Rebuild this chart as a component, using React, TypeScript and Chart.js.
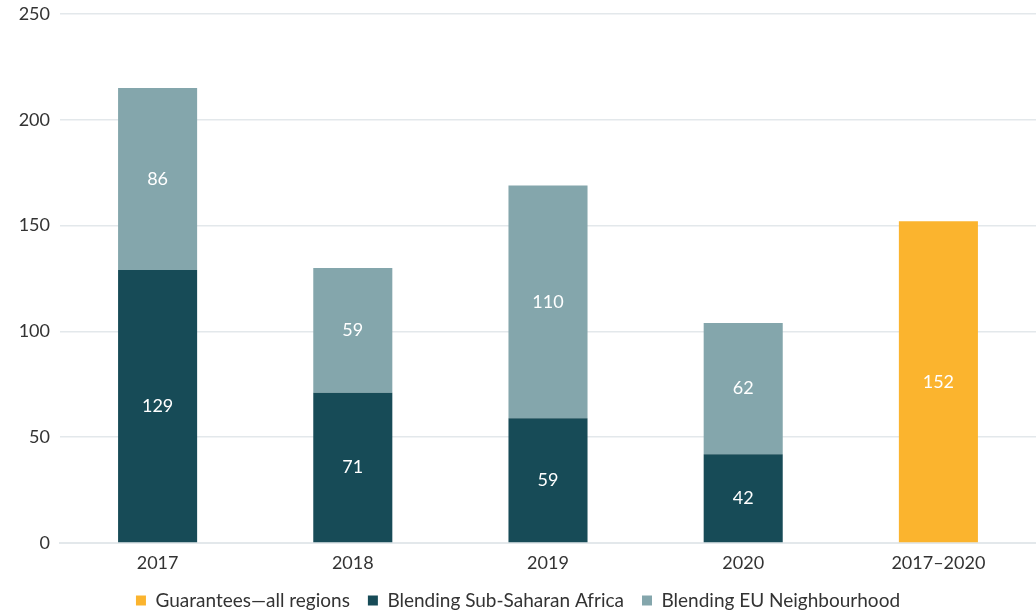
import React, { useEffect, useRef } from "react";
import { Chart, registerables } from "chart.js";

Chart.register(...registerables);

const categories = ["2017", "2018", "2019", "2020", "2017–2020"];
const guarantees = [null, null, null, null, 152];
const subSaharan = [129, 71, 59, 42, null];
const euNeighbourhood = [86, 59, 110, 62, null];
const yTicks = [0, 50, 100, 150, 200, 250];

const FONT = "Lato, 'Open Sans', sans-serif";
const TEXT = "#333333";

const valueLabels = {
  id: "valueLabels",
  afterDatasetsDraw(chart: any) {
    const ctx = chart.ctx;
    ctx.save();
    ctx.font = `18px ${FONT}`;
    ctx.fillStyle = "#ffffff";
    ctx.textAlign = "center";
    ctx.textBaseline = "middle";
    chart.data.datasets.forEach((ds: any, i: number) => {
      const meta = chart.getDatasetMeta(i);
      if (meta.hidden) return;
      meta.data.forEach((bar: any, j: number) => {
        const v = ds.data[j];
        if (v == null) return;
        const y = (bar.y + bar.base) / 2;
        ctx.fillText(String(v), bar.x, y);
      });
    });
    ctx.restore();
  },
};

export default function App() {
  const ref = useRef<HTMLCanvasElement>(null);
  useEffect(() => {
    if (!ref.current) return;
    const chart = new Chart(ref.current, {
      type: "bar",
      data: {
        labels: categories,
        datasets: [
          { label: "Guarantees—all regions", data: guarantees, backgroundColor: "#FBB42E" },
          { label: "Blending Sub-Saharan Africa", data: subSaharan, backgroundColor: "#174B57" },
          { label: "Blending EU Neighbourhood", data: euNeighbourhood, backgroundColor: "#84A6AC" },
        ],
      },
      options: {
        animation: false,
        responsive: true,
        maintainAspectRatio: false,
        datasets: { bar: { barPercentage: 0.405, categoryPercentage: 1 } },
        layout: { padding: { top: 14, right: 0, left: 0, bottom: 0 } },
        plugins: {
          tooltip: { enabled: false },
          legend: {
            position: "bottom",
            labels: {
              font: { family: FONT, size: 19 },
              color: TEXT,
              boxWidth: 10,
              boxHeight: 10,
              padding: 18,
            },
          },
        },
        scales: {
          x: {
            stacked: true,
            grid: { display: false, drawTicks: false },
            border: { color: "#E3E8EB", width: 2 },
            ticks: { font: { family: FONT, size: 18, lineHeight: 1 }, color: TEXT, padding: 11 },
            afterFit(axis: any) {
              axis.height = 30;
            },
          },
          y: {
            stacked: true,
            min: 0,
            max: 250,
            afterBuildTicks(axis: any) {
              axis.ticks = yTicks.map((v) => ({ value: v }));
            },
            afterFit(axis: any) {
              axis.width = 60;
              axis.paddingTop = 0;
            },
            grid: { color: "#E3E8EB", lineWidth: 1.5, drawTicks: false },
            border: { display: false },
            ticks: { font: { family: FONT, size: 18, lineHeight: 1 }, color: TEXT, padding: 10 },
          },
        },
      },
      plugins: [valueLabels],
    });
    return () => chart.destroy();
  }, []);
  return (
    <div style={{ position: "fixed", left: 0, top: 0, width: 1036, height: 620, background: "#fff" }}>
      <canvas ref={ref} />
    </div>
  );
}
